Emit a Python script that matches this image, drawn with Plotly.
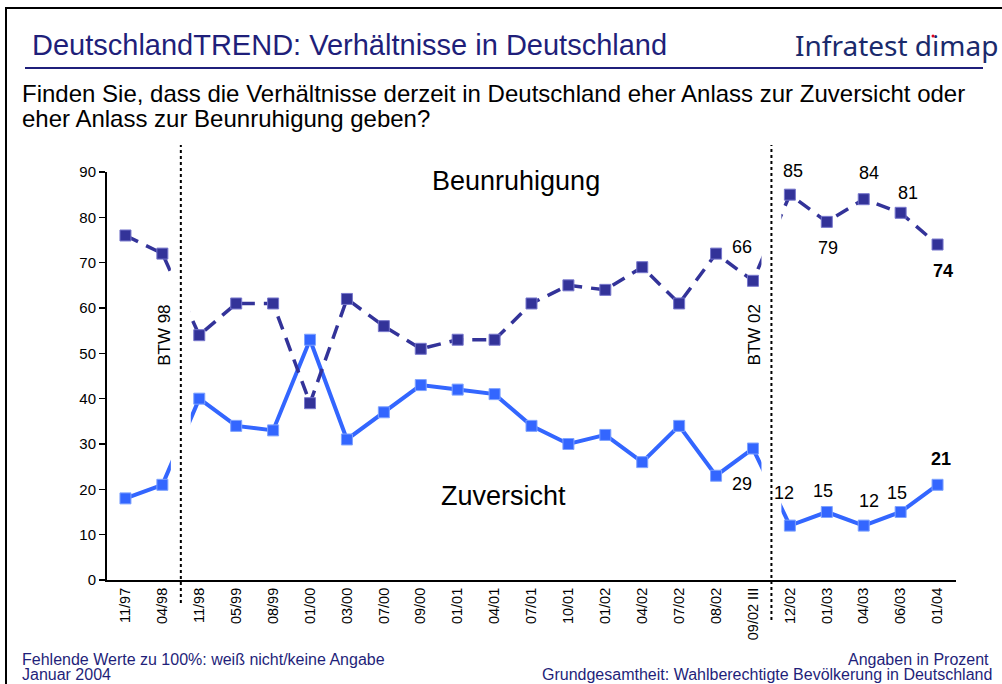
import plotly.graph_objects as go

# ---- data ----
categories = ["11/97", "04/98", "11/98", "05/99", "08/99", "01/00", "03/00", "07/00",
              "09/00", "01/01", "04/01", "07/01", "10/01", "01/02", "04/02", "07/02",
              "08/02", "09/02 III", "12/02", "01/03", "04/03", "06/03", "01/04"]
beunruhigung = [76, 72, 54, 61, 61, 39, 62, 56, 51, 53, 53, 61, 65, 64, 69, 61,
                72, 66, 85, 79, 84, 81, 74]
zuversicht = [18, 21, 40, 34, 33, 53, 31, 37, 43, 42, 41, 34, 30, 32, 26, 34,
              23, 29, 12, 15, 12, 15, 21]
y_ticks = [0, 10, 20, 30, 40, 50, 60, 70, 80, 90]
dividers = [("BTW 98", 1.5), ("BTW 02", 17.5)]

# labelled points: (index, dx px, dy px up, bold)
labels_b = [(17, -11, 34, False), (18, 3, 24, False), (19, 1, -26, False),
            (20, 5, 26, False), (21, 7, 20, False), (22, 5, -26, True)]
labels_z = [(17, -11, -35, False), (18, -6, 33, False), (19, -4, 21, False),
            (20, 5, 25, False), (21, -4, 19, False), (22, 3, 26, True)]

W, H = 1002, 684
L, R, T, B = 107, 956, 172, 580
NAVY = "#1f1f7a"
DARK = "#333399"
LIGHT = "#3366ff"
FONT = "Liberation Sans, Arial, sans-serif"


def px(xp):
    return (xp - L) / (R - L)


def py(yp):
    return (B - yp) / (B - T)


def note(x, y, text, size, color="black", xanchor="center", yanchor="middle",
         family=FONT, **kw):
    return dict(x=px(x), y=py(y), xref="paper", yref="paper", text=text,
                xanchor=xanchor, yanchor=yanchor, showarrow=False,
                font=dict(family=family, size=size, color=color), **kw)


xs = list(range(len(categories)))

fig = go.Figure()
fig.add_trace(go.Scatter(
    x=xs, y=zuversicht, mode="lines+markers", name="Zuversicht",
    line=dict(color=LIGHT, width=4),
    marker=dict(symbol="square", size=11, color=LIGHT, line=dict(color="#7fa3ff", width=1)),
    hoverinfo="skip"))
fig.add_trace(go.Scatter(
    x=xs, y=beunruhigung, mode="lines+markers", name="Beunruhigung",
    line=dict(color=DARK, width=3.5, dash="14px,9px"),
    marker=dict(symbol="square", size=11, color=DARK, line=dict(color="#7777cc", width=1)),
    hoverinfo="skip"))

shapes = []
annotations = []

for name, xd in dividers:
    # white gap where the lines cross the election divider
    shapes.append(dict(type="rect", xref="x", yref="y", x0=xd - 0.27, x1=xd + 0.27,
                       y0=0.6, y1=90, fillcolor="white", line=dict(width=0), layer="above"))
for i, (name, xd) in enumerate(dividers):
    shapes.append(dict(type="line", xref="x", yref="paper", x0=xd, x1=xd,
                       y0=py(603 if i == 0 else 620), y1=py(145),
                       line=dict(color="black", width=2, dash="dot"), layer="above"))
    annotations.append(dict(x=xd, xref="x", y=py(335), yref="paper", text=name,
                            xanchor="center", yanchor="middle",
                            showarrow=False, textangle=-90, xshift=-17,
                            font=dict(family=FONT, size=17, color="black")))

for series, spec in ((beunruhigung, labels_b), (zuversicht, labels_z)):
    for idx, dx, dy, bold in spec:
        v = series[idx]
        annotations.append(dict(x=idx, y=v, xref="x", yref="y",
                                xanchor="center", yanchor="middle",
                                text=f"<b>{v}</b>" if bold else str(v), showarrow=False,
                                xshift=dx, yshift=dy,
                                font=dict(family=FONT, size=18, color="black")))

# series names in the plot
annotations.append(note(516, 181, "Beunruhigung", 27))
annotations.append(note(503, 496, "Zuversicht", 27))

# header
annotations.append(note(30, 45, "DeutschlandTREND: Verhältnisse in Deutschland", 29,
                        color=NAVY, xanchor="left"))
annotations.append(note(1000, 45, "Infratest dimap", 28, color="#1a2a6c", xanchor="right",
                        family="Noto Sans, sans-serif"))
annotations.append(note(20, 93, "Finden Sie, dass die Verhältnisse derzeit in Deutschland "
                        "eher Anlass zur Zuversicht oder", 24, xanchor="left"))
annotations.append(note(20, 118, "eher Anlass zur Beunruhigung geben?", 24, xanchor="left"))

# footer
annotations.append(note(20, 659, "Fehlende Werte zu 100%: weiß nicht/keine Angabe", 16,
                        color=NAVY, xanchor="left"))
annotations.append(note(20, 674, "Januar 2004", 16, color=NAVY, xanchor="left"))
annotations.append(note(991, 659, "Angaben in Prozent", 16, color=NAVY, xanchor="right"))
annotations.append(note(994, 674, "Grundgesamtheit: Wahlberechtigte Bevölkerung in Deutschland",
                        16, color=NAVY, xanchor="right"))

# frame and header rule
shapes.append(dict(type="line", xref="paper", yref="paper", x0=px(5), x1=px(1002),
                   y0=py(8), y1=py(8), line=dict(color="black", width=2)))
shapes.append(dict(type="line", xref="paper", yref="paper", x0=px(6), x1=px(6),
                   y0=py(8), y1=py(684), line=dict(color="black", width=2)))
shapes.append(dict(type="line", xref="paper", yref="paper", x0=px(25), x1=px(983),
                   y0=py(68), y1=py(68), line=dict(color=NAVY, width=2)))
# red i-dot of the logo
shapes.append(dict(type="circle", xref="paper", yref="paper", x0=px(931.5), x1=px(934.5),
                   y0=py(34.5), y1=py(37.5), fillcolor="#e0001a", line=dict(width=0)))

fig.update_layout(
    width=W, height=H,
    margin=dict(l=L, r=W - R, t=T, b=H - B, pad=0),
    paper_bgcolor="white", plot_bgcolor="white",
    showlegend=False,
    shapes=shapes, annotations=annotations,
    font=dict(family=FONT, color="black"),
    xaxis=dict(range=[-0.5, len(categories) - 0.5], tickmode="array", tickvals=xs,
               ticktext=categories, tickangle=-90, showgrid=False, zeroline=False,
               showline=True, linecolor="black", linewidth=2, ticks="",
               tickfont=dict(family=FONT, size=14.5, color="black"), fixedrange=True),
    yaxis=dict(range=[0, 90], tickmode="array", tickvals=y_ticks, showgrid=False,
               zeroline=False, showline=True, linecolor="black", linewidth=2,
               ticks="outside", ticklen=6, tickwidth=1.5, tickcolor="black",
               tickfont=dict(family=FONT, size=15, color="black"), fixedrange=True),
)

fig.write_html("out.html", config={"displayModeBar": False, "staticPlot": True},
               post_script="document.body.style.margin='0';document.body.style.overflow='hidden';")
